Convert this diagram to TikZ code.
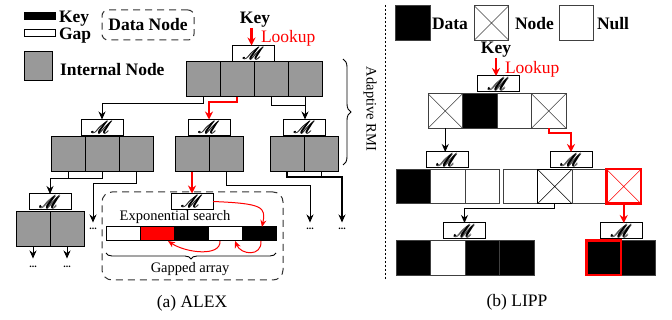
\documentclass[tikz,border=0pt]{standalone}
\usepackage{fontspec}
\setmainfont{Liberation Serif}
\usepackage{amsmath}
\usepackage{mathrsfs}
\usepackage{tikz}
\usetikzlibrary{arrows.meta,positioning,decorations.pathreplacing}
\definecolor{alexgray}{RGB}{153, 153, 153}
\definecolor{lookupred}{RGB}{255, 0, 0}
\newcommand{\mdl}{$\pmb{\mathscr{M}}$}
\tikzset{
  every node/.append style={inner sep=0pt, outer sep=0pt},
  lbl/.style={font=\rmfamily\fontsize{17.5}{17.5}\selectfont\bfseries},
  txt/.style={font=\rmfamily\fontsize{14.5}{14.5}\selectfont},
  capt/.style={font=\rmfamily\fontsize{17.5}{17.5}\selectfont},
  acell/.style={draw, line width=1pt, fill=alexgray, minimum width=34pt, minimum height=35pt},
  gcell/.style={draw, line width=1pt, fill=white, minimum width=34pt, minimum height=14pt},
  lcell/.style={draw=black!75, line width=1pt, fill=white, minimum width=34.5pt, minimum height=34.5pt},
  xcell/.style={lcell, path picture={\draw[line width=0.6pt] (path picture bounding box.north west) -- (path picture bounding box.south east)
      (path picture bounding box.north east) -- (path picture bounding box.south west);}},
  redbox/.style={draw=lookupred, line width=2.5pt},
  model/.style={draw, line width=1pt, fill=white, minimum width=42pt, minimum height=16pt,
      font=\fontsize{17}{17}\selectfont},
  dots/.style={font=\fontsize{10}{10}\selectfont\bfseries, anchor=base},
  arr/.style={line width=0.9pt, -{Stealth[length=8pt, width=7pt]}},
  redarr/.style={draw=lookupred, line width=2.5pt, -{Stealth[length=8pt, width=8pt]}},
  thinred/.style={draw=lookupred, line width=1pt, -{Stealth[length=7pt, width=6pt]}},
}

\begin{document}
\begin{tikzpicture}[x=1pt, y=-1pt]
    \useasboundingbox (0,0) rectangle (672,320);

    % ---------------- (a) ALEX ----------------
    % Legend
    \node[draw, fill=black, minimum width=31pt, minimum height=7pt] (lgkey) at (39.5,15.5) {};
    \node[draw, fill=white, minimum width=31pt, minimum height=7pt] (lggap) at (39.5,32.5) {};
    \node[lbl, anchor=base west] (lgkeyt) at (59,22.5) {Key};
    \node[lbl, anchor=base west] (lggapt) at (59,39.5) {Gap};
    \node[draw=black!80, line width=1pt, dash pattern=on 7pt off 5pt, rounded corners=6pt,
          minimum width=92pt, minimum height=30pt] (lgdata) at (148,25) {};
    \node[lbl] at (lgdata) {Data Node};
    \node[acell, minimum width=28pt, minimum height=29pt] (lgint) at (38,66.5) {};
    \node[lbl, anchor=base west] (lginteger) at (60,76) {Internal Node};

    % Lookup key
    \node[lbl, anchor=base] (akey) at (255,24) {Key};
    \node[capt, anchor=base west, text=lookupred] (alook) at (261,43) {Lookup};

    % Root node
    \node[model] (am0) at (253.5,53.5) {\mdl};
    \node[acell] (r1) at (203,79.5) {};
    \node[acell, right=0pt of r1] (r2) {};
    \node[acell, right=0pt of r2] (r3) {};
    \node[acell, right=0pt of r3] (r4) {};
    \draw[redarr] ([xshift=-2pt]akey.south -| am0.north) -- ([xshift=-2pt]am0.north);

    % Level 2
    \node[model] (aml) at (102,127.5) {\mdl};
    \node[acell] (l1) at (68,154.5) {};
    \node[acell, right=0pt of l1] (l2) {};
    \node[acell, right=0pt of l2] (l3) {};
    \node[model] (amm) at (209,127.5) {\mdl};
    \node[acell] (m1) at (192,154.5) {};
    \node[acell, right=0pt of m1] (m2) {};
    \node[model] (amr) at (304.5,127.5) {\mdl};
    \node[acell] (q1) at (287,154.5) {};
    \node[acell, right=0pt of q1] (q2) {};

    \draw[arr] (r1.south) -- ++(0,6) -| (aml.north);
    \draw[redarr] (r2.south) -- ++(0,5) -| (amm.north);
    \draw[line width=0.9pt] (r3.south) -- ++(0,8) -| (r4.south);
    \draw[arr] (r4.south) -- (r4.south |- amr.north);

    % Level 3 (left)
    \node[model] (amg) at (50,202) {\mdl};
    \node[acell] (g1) at (33,229) {};
    \node[acell, right=0pt of g1] (g2) {};
    \node[dots] (d0) at (93,230) {...};
    \node[dots] (d3) at (33,268) {...};
    \node[dots] (d4) at (67,268) {...};
    \node[dots] (d1) at (310,230) {...};
    \node[dots] (d2) at (342,230) {...};

    \draw[line width=0.9pt] (l1.south) -- ++(0,6);
    \draw[arr] (l2.south) -- ++(0,6) -| (amg.north);
    \draw[arr, shorten >=6pt] (l3.south) -- ++(0,11) -| (d0.north);
    \draw[arr, shorten >=8pt] (g1.south) -- (d3.north);
    \draw[arr, shorten >=8pt] (g2.south) -- (d4.north);
    \draw[arr, shorten >=6pt] (m2.south) -- ++(0,13) -| (d1.north);
    \draw[line width=0.9pt] (q2.south) -- ++(0,5);
    \draw[arr, line width=1.3pt, shorten >=6pt] (q1.south) -- ++(0,5) -| (d2.north);

    % Data node
    \node[draw=black!80, line width=1pt, dash pattern=on 7pt off 5pt, rounded corners=10pt,
          minimum width=181pt, minimum height=88pt] (adata) at (192.5,236) {};
    \node[model] (amd) at (192,201.5) {\mdl};
    \draw[redarr] (m1.south) -- (amd.north);
    \node[txt, anchor=base] (aexp) at (175,221) {Exponential search};
    \node[gcell] (a1) at (123,234) {};
    \node[gcell, fill=lookupred, right=0pt of a1] (a2) {};
    \node[gcell, fill=black, right=0pt of a2] (a3) {};
    \node[gcell, right=0pt of a3] (a4) {};
    \node[gcell, fill=black, right=0pt of a4] (a5) {};
    \draw[thinred] (amd.east) .. controls +(50,2) and +(4,-20) .. ([xshift=3pt]a5.north);
    \draw[thinred] ([xshift=2pt]a5.south) .. controls +(1,16) and +(6,14) .. ([xshift=10pt]a4.south);
    \draw[thinred] ([xshift=-5pt]a4.south) .. controls +(1,16) and +(18,12) .. ([xshift=11pt]a2.south);
    \draw[line width=0.9pt, decorate, decoration={brace, mirror, amplitude=6pt}]
        ([yshift=-12pt]a1.south west) -- ([yshift=-12pt]a5.south east);
    \node[txt, anchor=base] (agap) at (190,273) {Gapped array};

    % Adaptive RMI
    \draw[line width=0.9pt, decorate, decoration={brace, amplitude=8pt}] (343,59) -- (343,165);
    \node[txt, rotate=-90] (armi) at (370,109) {Adaptive RMI};

    \node[capt, anchor=base] (acap) at (192,308) {(a) ALEX};

    % Separator
    \draw[line width=0.9pt, dash pattern=on 2pt off 2pt] (385,5) -- (385,280);

    % ---------------- (b) LIPP ----------------
    % Legend
    \node[lcell, fill=black] (lgd) at (413,23) {};
    \node[lbl, anchor=base west] (lgdt) at (432,30) {Data};
    \node[xcell] (lgn) at (491.5,23) {};
    \node[lbl, anchor=base west] (lgnt) at (515,30) {Node};
    \node[lcell] (lgu) at (576.5,23) {};
    \node[lbl, anchor=base west] (lgut) at (597,30) {Null};

    % Lookup key
    \node[lbl, anchor=base] (bkey) at (496,54) {Key};
    \node[capt, anchor=base west, text=lookupred] (blook) at (505,74) {Lookup};

    % Root node
    \node[model] (bm0) at (498.5,84) {\mdl};
    \node[xcell] (p1) at (445.25,111) {};
    \node[lcell, fill=black, right=0pt of p1] (p2) {};
    \node[lcell, right=0pt of p2] (p3) {};
    \node[xcell, right=0pt of p3] (p4) {};
    \draw[redarr] (bkey.south) -- (bkey.south |- bm0.north);

    % Level 2
    \node[model] (bma) at (447,160) {\mdl};
    \node[lcell, fill=black] (s1) at (413.25,186.5) {};
    \node[lcell, right=0pt of s1] (s2) {};
    \node[lcell, right=0pt of s2] (s3) {};
    \node[model] (bmb) at (571,160) {\mdl};
    \node[lcell] (u1) at (520.25,186.5) {};
    \node[xcell, draw=black, right=0pt of u1] (u2) {};
    \node[lcell, right=0pt of u2] (u3) {};
    \node[xcell, redbox, right=0pt of u3] (u4) {};

    \draw[arr] (p1.south) -- (p1.south |- bma.north);
    \draw[redarr] (p4.south) -- ++(0,5) -| (bmb.north);

    % Level 3
    \node[model] (bmc) at (464.5,231) {\mdl};
    \node[lcell, fill=black] (v1) at (413.25,258) {};
    \node[lcell, right=0pt of v1] (v2) {};
    \node[lcell, fill=black, right=0pt of v2] (v3) {};
    \node[lcell, fill=black, right=0pt of v3] (v4) {};
    \node[model] (bmd) at (621.5,231) {\mdl};
    \node[lcell, fill=black] (w2) at (638,258) {};
    \node[lcell, fill=black, redbox, left=0pt of w2] (w1) {};

    \draw[arr] (u2.south) -- ++(0,5) -| (bmc.north);
    \draw[redarr] (u4.south) -- (u4.south |- bmd.north);

    \node[capt, anchor=base] (bcap) at (517,307) {(b) LIPP};
\end{tikzpicture}
\end{document}
